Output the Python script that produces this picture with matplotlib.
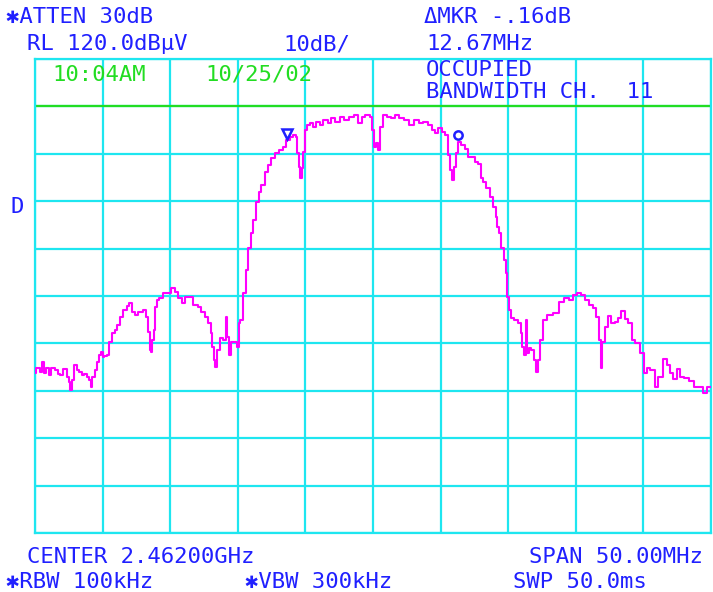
import matplotlib
matplotlib.use("Agg")
import matplotlib.pyplot as plt
import numpy as np

# ---- data ----
center_mhz = 2462.0
span_mhz = 50.0
ref_level = 120.0
db_per_div = 10.0

freq_offset_mhz = [
    -25.00, -24.78, -24.55, -24.38, -24.26, -24.04, -23.89, -23.67, -23.39, -23.22,
    -23.02, -22.78, -22.56, -22.41, -22.34, -22.19, -21.97, -21.82, -21.67, -21.45,
    -21.23, -21.08, -20.93, -20.80, -20.71, -20.44, -20.34, -20.19, -20.07, -19.93,
    -19.82, -19.60, -19.45, -19.23, -18.96, -18.86, -18.59, -18.34, -18.12, -17.97,
    -17.75, -17.48, -17.23, -16.86, -16.74, -16.57, -16.46, -16.37, -16.27, -16.20,
    -16.05, -15.90, -15.75, -15.38, -15.01, -14.81, -14.52, -14.27, -14.05, -13.78,
    -13.41, -13.16, -12.80, -12.57, -12.30, -12.06, -11.93, -11.83, -11.69, -11.61,
    -11.46, -11.19, -10.95, -10.82, -10.72, -10.58, -10.45, -10.21, -9.98, -9.91,
    -9.71, -9.47, -9.34, -9.10, -8.97, -8.73, -8.51, -8.36, -8.14, -7.86,
    -7.62, -7.40, -7.12, -6.75, -6.51, -6.29, -6.01, -5.77, -5.62, -5.55,
    -5.40, -5.33, -5.20, -5.10, -4.90, -4.81, -4.53, -4.29, -4.07, -3.79,
    -3.55, -3.18, -2.96, -2.59, -2.31, -1.95, -1.58, -1.21, -0.96, -0.74,
    -0.37, -0.10, 0.00, 0.15, 0.30, 0.44, 0.64, 0.89, 1.11, 1.48,
    1.75, 2.12, 2.49, 2.86, 3.23, 3.60, 3.85, 4.22, 4.44, 4.71,
    4.96, 5.18, 5.45, 5.62, 5.75, 5.90, 6.06, 6.19, 6.36, 6.66,
    6.93, 7.17, 7.40, 7.67, 7.91, 8.04, 8.28, 8.50, 8.78, 9.02,
    9.15, 9.25, 9.39, 9.59, 9.76, 9.89, 9.99, 10.13, 10.26, 10.63,
    10.87, 11.00, 11.09, 11.24, 11.37, 11.46, 11.61, 11.83, 11.98, 12.13,
    12.28, 12.40, 12.72, 13.09, 13.58, 13.95, 14.32, 14.69, 14.94, 15.31,
    15.53, 15.80, 16.17, 16.42, 16.64, 16.79, 16.91, 17.01, 17.28, 17.53,
    17.75, 18.02, 18.27, 18.49, 18.76, 19.01, 19.23, 19.60, 19.97, 20.12,
    20.34, 20.71, 20.98, 21.23, 21.60, 21.82, 22.10, 22.34, 22.56, 22.83,
    23.20, 23.57, 23.94, 24.31, 24.56, 24.78, 25.00,
]
level_dbuv = [
    53.8, 54.8, 54.0, 56.1, 53.8, 54.8, 53.3, 54.8, 54.4, 53.5,
    53.3, 54.6, 52.9, 51.9, 50.2, 52.3, 55.4, 54.4, 54.0, 53.3,
    53.5, 52.9, 52.3, 50.8, 52.9, 54.4, 56.1, 57.6, 58.2, 57.1,
    57.3, 57.6, 60.3, 62.2, 62.8, 63.9, 65.6, 67.0, 67.9, 68.5,
    66.6, 66.0, 66.6, 67.0, 65.6, 62.4, 58.6, 58.2, 60.7, 62.8,
    67.7, 69.2, 69.6, 70.6, 70.6, 71.7, 70.8, 69.6, 68.5, 69.8,
    69.8, 68.1, 67.7, 66.6, 65.6, 64.3, 62.2, 59.2, 56.5, 55.0,
    58.6, 61.1, 60.7, 65.6, 61.4, 57.6, 60.3, 60.3, 59.2, 64.3,
    64.9, 70.6, 75.5, 80.1, 83.3, 86.0, 89.8, 91.9, 93.4, 96.2,
    97.6, 99.1, 100.2, 100.8, 101.4, 102.9, 103.5, 104.0, 103.5, 100.2,
    97.2, 94.9, 97.0, 100.4, 105.0, 106.1, 106.5, 105.7, 106.7, 106.1,
    107.1, 106.5, 107.6, 106.7, 107.8, 107.1, 107.8, 108.2, 106.5, 107.8,
    108.2, 107.8, 105.0, 101.4, 102.3, 100.8, 105.7, 108.2, 107.8, 107.6,
    108.2, 107.6, 107.1, 106.1, 107.1, 106.5, 106.7, 106.1, 105.0, 104.4,
    105.4, 104.6, 104.0, 99.7, 96.6, 94.5, 97.2, 100.2, 102.5, 101.9,
    101.0, 99.3, 99.3, 98.3, 97.8, 94.9, 94.1, 92.8, 90.9, 88.8,
    86.7, 84.6, 83.3, 80.1, 77.6, 74.9, 69.8, 67.0, 65.4, 64.9,
    64.3, 62.2, 59.2, 57.6, 64.9, 58.0, 59.0, 58.6, 56.5, 54.0,
    56.5, 60.7, 64.9, 66.0, 66.4, 68.7, 69.6, 69.2, 70.2, 70.6,
    70.2, 69.2, 68.1, 67.5, 65.6, 60.7, 54.8, 60.3, 63.5, 65.8,
    64.3, 64.5, 65.4, 66.8, 65.1, 64.3, 60.7, 60.1, 58.0, 53.8,
    54.8, 54.4, 50.8, 52.9, 56.7, 55.4, 53.8, 52.5, 54.6, 52.9,
    52.7, 52.1, 50.8, 50.8, 49.5, 50.8, 50.8,
]
marker_offset_mhz = [-6.36, 6.29]
marker_level = [104.2, 104.0]
display_line_level = 110.0

# ---- style ----
CYAN = "#1ee6f0"
MAGENTA = "#ff00ff"
BLUE = "#2020ff"
GREEN = "#22dd22"

fig = plt.figure(figsize=(7.13, 5.92), dpi=100)
fig.patch.set_facecolor("white")
W, H = 713.0, 592.0
ax = fig.add_axes([35 / W, 1 - 533 / H, 676 / W, 474 / H])

f0 = center_mhz - span_mhz / 2
f1 = center_mhz + span_mhz / 2
freqs = [center_mhz + f for f in freq_offset_mhz]
ax.set_xlim(f0, f1)
ax.set_ylim(ref_level - 10 * db_per_div, ref_level)
ax.set_xticks(np.linspace(f0, f1, 11))
ax.set_yticks(np.linspace(ref_level - 10 * db_per_div, ref_level, 11))
ax.tick_params(length=0, labelbottom=False, labelleft=False)
ax.grid(True, color=CYAN, linewidth=1.6, zorder=1)
for s in ax.spines.values():
    s.set_color(CYAN)
    s.set_linewidth(1.6)
ax.set_axisbelow(True)

ax.axhline(display_line_level, color=GREEN, linewidth=1.6, zorder=2)
ax.plot(freqs, level_dbuv, color=MAGENTA, linewidth=1.5, zorder=3,
        drawstyle="steps-mid")
ax.plot(center_mhz + marker_offset_mhz[0], marker_level[0], marker="v",
        markersize=7, markerfacecolor="none", markeredgecolor=BLUE,
        markeredgewidth=1.8, zorder=4)
ax.plot(center_mhz + marker_offset_mhz[1], marker_level[1], marker="o",
        markersize=6, markerfacecolor="none", markeredgecolor=BLUE,
        markeredgewidth=1.8, zorder=4)

FAM = ["DejaVu Sans Mono", "DejaVu Sans"]
FS = 16


def t(x, y, s, color=BLUE, ha="left"):
    fig.text(x / W, 1 - y / H, s, color=color, family=FAM, fontsize=FS,
             ha=ha, va="center")


t(6, 17, "\u2731ATTEN 30dB")
t(27, 44, "RL 120.0dB\u00b5V")
t(283, 44, "10dB/")
t(424, 17, "\u0394MKR -.16dB")
t(426, 44, "12.67MHz")
t(52, 75, "10:04AM", color=GREEN)
t(205, 75, "10/25/02", color=GREEN)
t(426, 70, "OCCUPIED")
t(426, 92, "BANDWIDTH CH.  11")
t(10, 207, "D")
t(27, 557, "CENTER 2.46200GHz")
t(703, 557, "SPAN 50.00MHz", ha="right")
t(6, 582, "\u2731RBW 100kHz")
t(245, 582, "\u2731VBW 300kHz")
t(513, 582, "SWP 50.0ms")

fig.savefig("out.png", dpi=100)
